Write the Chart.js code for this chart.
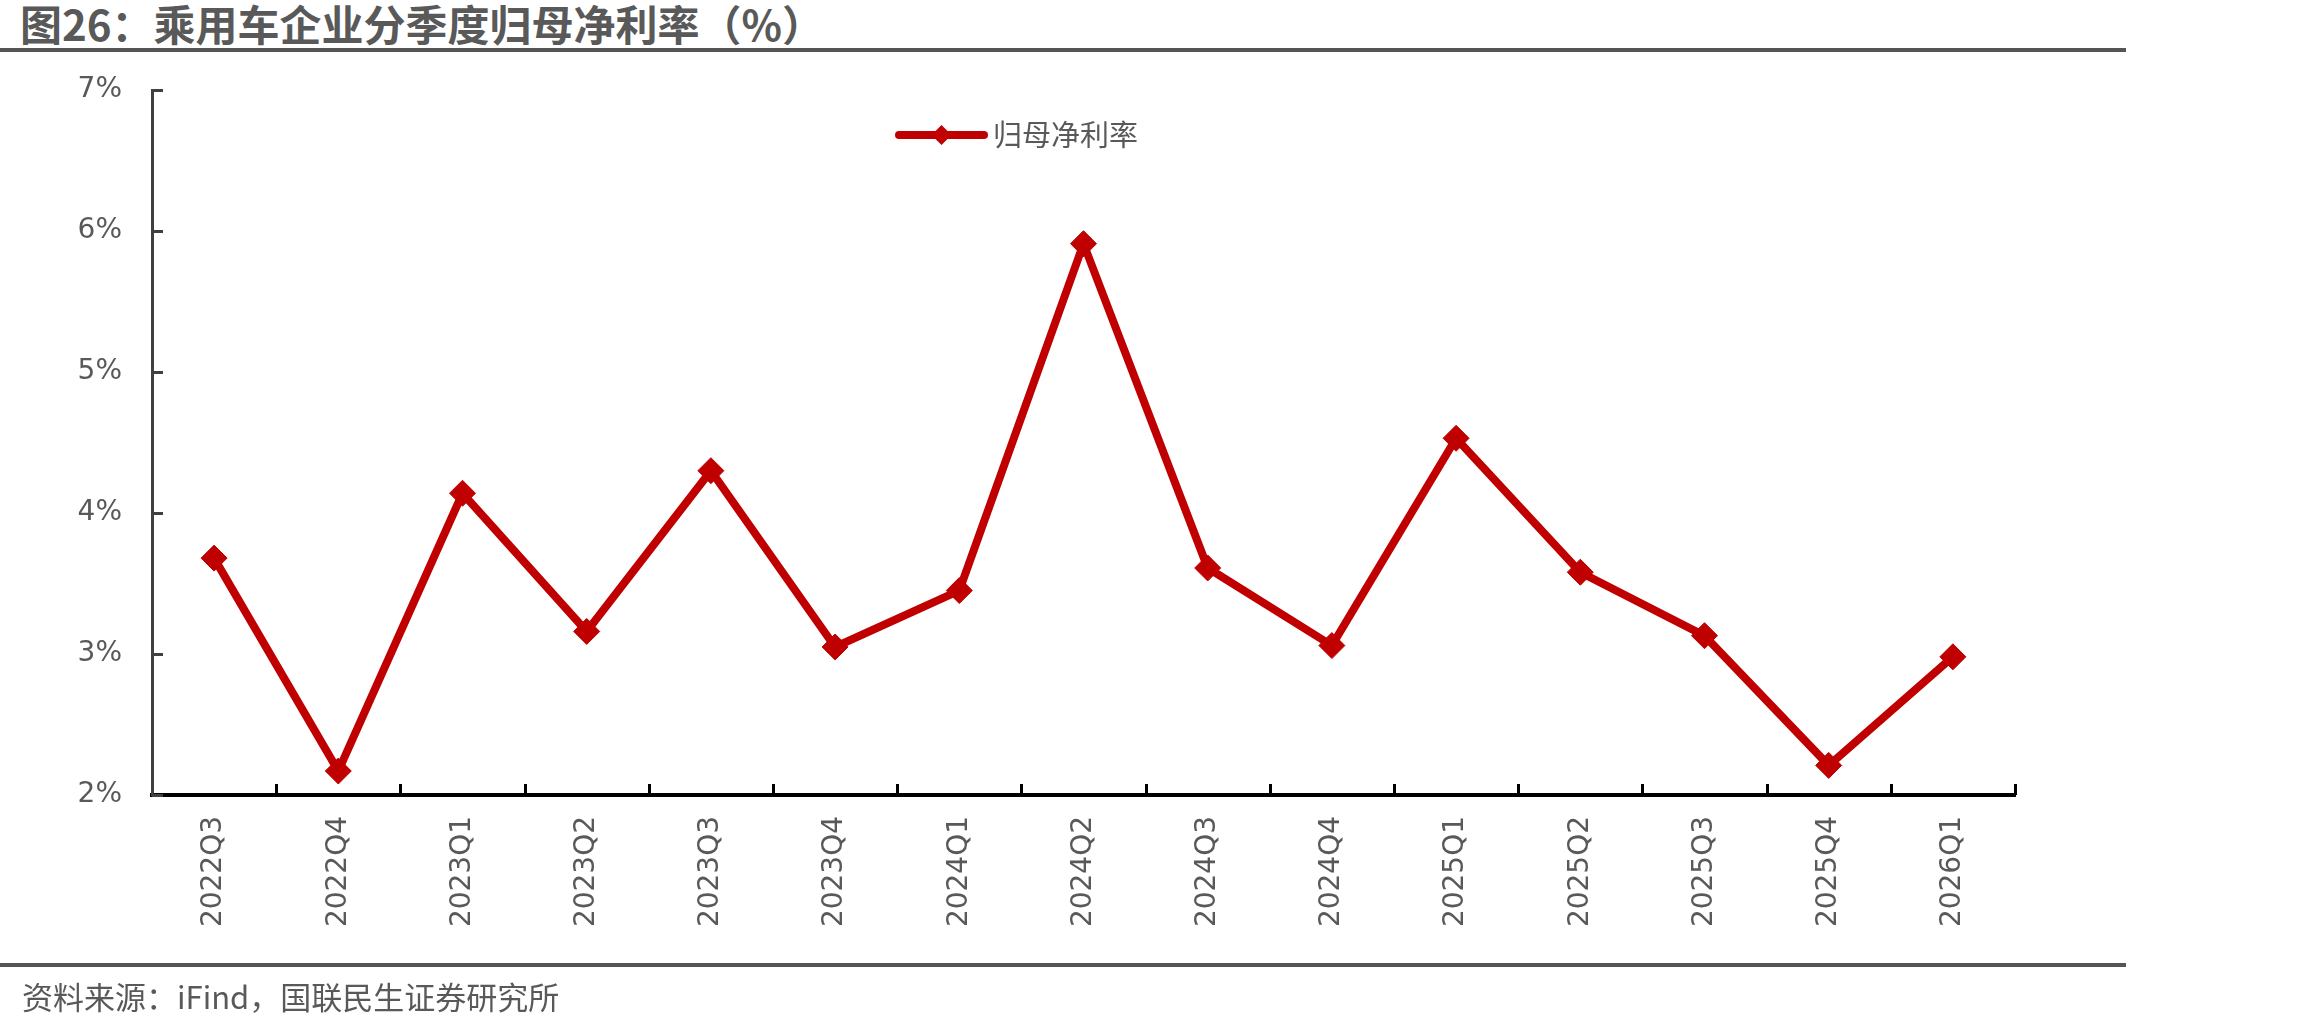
<!DOCTYPE html>
<html>
<head>
<meta charset="utf-8">
<script src="https://cdn.jsdelivr.net/npm/chart.js@4.4.1/dist/chart.umd.min.js"></script>
<style>
  html, body { margin: 0; padding: 0; background: #fff; }
  body { width: 2310px; height: 1025px; position: relative; overflow: hidden; }
  #title { position: absolute; left: 20px; top: -1px; font: 700 42px "Noto Sans CJK SC", sans-serif; line-height: 48px; color: #595959; white-space: nowrap; }
  .rule { position: absolute; left: 0; width: 2126px; height: 4px; background: #555; }
  #source { position: absolute; left: 22px; top: 975px; font: 400 31px "Noto Sans CJK SC", sans-serif; line-height: 42px; color: #595959; white-space: nowrap; }
  #c { position: absolute; left: 0; top: 0; }
</style>
</head>
<body>
<div id="title">图26：乘用车企业分季度归母净利率（%）</div>
<div class="rule" style="top:48px"></div>
<canvas id="c" width="2310" height="1025"></canvas>
<div class="rule" style="top:963px"></div>
<div id="source">资料来源：iFind，国联民生证券研究所</div>
<script>
/* 乘用车企业分季度归母净利率 */
const quarters = ['2022Q3', '2022Q4', '2023Q1', '2023Q2', '2023Q3', '2023Q4', '2024Q1', '2024Q2',
  '2024Q3', '2024Q4', '2025Q1', '2025Q2', '2025Q3', '2025Q4', '2026Q1'];
const netMargin = [3.68, 2.17, 4.14, 3.16, 4.30, 3.05, 3.45, 5.91, 3.61, 3.06, 4.53, 3.58, 3.13, 2.21, 2.98];
const seriesName = '归母净利率';
const yTicks = [2, 3, 4, 5, 6, 7];

const RED = '#C00000';
const GREY = '#595959';
const AXIS_FONT = { family: '"DejaVu Sans", sans-serif', size: 28 };

// inward tick marks on both axes + legend (line with diamond)
const decor = {
  id: 'decor',
  afterDraw(chart) {
    const { ctx, scales: { x, y }, chartArea } = chart;
    ctx.save();
    // x ticks between categories, pointing up
    ctx.strokeStyle = '#000';
    ctx.lineWidth = 3;
    const half = (x.getPixelForValue(1) - x.getPixelForValue(0)) / 2;
    for (let i = 1; i <= quarters.length; i++) {
      const px = Math.round(x.getPixelForValue(i - 1) + half) + 0.5;
      ctx.beginPath();
      ctx.moveTo(px, chartArea.bottom);
      ctx.lineTo(px, chartArea.bottom - 11);
      ctx.stroke();
    }
    // y ticks pointing right
    ctx.strokeStyle = '#404040';
    yTicks.forEach((v) => {
      const py = Math.round(y.getPixelForValue(v)) + 0.5;
      ctx.beginPath();
      ctx.moveTo(chartArea.left, py);
      ctx.lineTo(chartArea.left + 11, py);
      ctx.stroke();
    });
    // legend
    const lx0 = 899, lx1 = 984, ly = 135;
    ctx.strokeStyle = RED;
    ctx.lineWidth = 8;
    ctx.lineCap = 'round';
    ctx.beginPath();
    ctx.moveTo(lx0, ly);
    ctx.lineTo(lx1, ly);
    ctx.stroke();
    const cx = (lx0 + lx1) / 2, r = 10;
    ctx.fillStyle = RED;
    ctx.beginPath();
    ctx.moveTo(cx - r, ly); ctx.lineTo(cx, ly - r); ctx.lineTo(cx + r, ly); ctx.lineTo(cx, ly + r);
    ctx.closePath();
    ctx.fill();
    ctx.fillStyle = GREY;
    ctx.font = '29px "Noto Sans CJK SC", sans-serif';
    ctx.textBaseline = 'middle';
    ctx.fillText(chart.data.datasets[0].label, 993, ly);
    ctx.restore();
  },
};

new Chart(document.getElementById('c'), {
  type: 'line',
  data: {
    labels: quarters,
    datasets: [{
      label: seriesName,
      data: netMargin,
      borderColor: RED,
      borderWidth: 8,
      pointStyle: 'rectRot',
      pointRadius: 13,
      pointBackgroundColor: RED,
      pointBorderColor: RED,
      pointBorderWidth: 1,
      tension: 0,
      clip: false,
    }],
  },
  options: {
    responsive: false,
    animation: false,
    layout: { padding: { left: 0, top: 90, right: 295, bottom: 80 } },
    plugins: { legend: { display: false }, tooltip: { enabled: false } },
    scales: {
      x: {
        offset: true,
        grid: { display: false, drawTicks: false },
        border: { display: true, color: '#000', width: 4 },
        ticks: { color: GREY, font: AXIS_FONT, minRotation: 90, maxRotation: 90, autoSkip: false, padding: 21 },
        afterFit: (s) => { s.height = 150; },
      },
      y: {
        min: 2, max: 7,
        grid: { display: false, drawTicks: false },
        border: { display: true, color: '#404040', width: 3 },
        ticks: { color: GREY, font: AXIS_FONT, stepSize: 1, padding: 30, callback: (v) => v + '%' },
        afterFit: (s) => { s.width = 152; },
      },
    },
  },
  plugins: [decor],
});
</script>
</body>
</html>
